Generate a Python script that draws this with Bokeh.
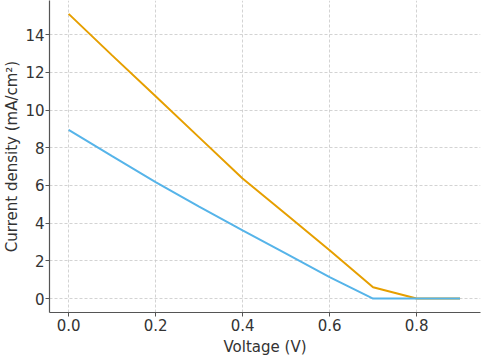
from bokeh.plotting import figure
from bokeh.models import Range1d, FixedTicker, PrintfTickFormatter
from bokeh.embed import file_html
from bokeh.resources import INLINE

voltage = [0.0, 0.1, 0.2, 0.3, 0.4, 0.5, 0.6, 0.7, 0.8, 0.9]
current_orange = [15.1, 12.9, 10.73, 8.55, 6.37, 4.47, 2.56, 0.6, 0.0, 0.0]
current_blue = [8.95, 7.55, 6.18, 4.88, 3.62, 2.38, 1.14, 0.0, 0.0, 0.0]
x_ticks = [0.0, 0.2, 0.4, 0.6, 0.8]
y_ticks = [0, 2, 4, 6, 8, 10, 12, 14]

p = figure(width=483, height=361, output_backend="svg", toolbar_location=None,
           x_range=Range1d(-0.044, 0.947), y_range=Range1d(-0.74, 15.81),
           min_border_left=0, min_border_right=3, min_border_top=0, min_border_bottom=49)
p.outline_line_color = None
p.background_fill_color = "white"
p.border_fill_color = "white"

p.line(voltage, current_orange, line_color="#E69F00", line_width=2)
p.line(voltage, current_blue, line_color="#56B4E9", line_width=2)

p.xaxis.ticker = FixedTicker(ticks=x_ticks)
p.yaxis.ticker = FixedTicker(ticks=y_ticks)
p.xaxis.formatter = PrintfTickFormatter(format="%.1f")
p.yaxis.formatter = PrintfTickFormatter(format="%d")
p.xaxis.axis_label = "Voltage (V)"
p.yaxis.axis_label = "Current density (mA/cm²)"

for ax in (p.xaxis, p.yaxis):
    ax.axis_line_color = "#555555"
    ax.axis_line_width = 1.2
    ax.major_tick_line_color = "#555555"
    ax.major_tick_out = 4
    ax.major_tick_in = 0
    ax.minor_tick_line_color = None
    ax.major_label_text_font = "DejaVu Sans"
    ax.major_label_text_font_size = "15px"
    ax.major_label_text_color = "#333333"
    ax.axis_label_text_font = "DejaVu Sans"
    ax.axis_label_text_font_size = "15px"
    ax.axis_label_text_font_style = "normal"
    ax.axis_label_text_color = "#333333"
    ax.major_label_standoff = 2
p.yaxis.axis_label_standoff = 1
p.yaxis.major_label_standoff = 1
p.xaxis.axis_label_standoff = 4

for g in (p.xgrid, p.ygrid):
    g.grid_line_color = "#c8c8c8"
    g.grid_line_dash = "3 2"
    g.grid_line_width = 0.8

open("out.html", "w").write(file_html(p, INLINE))
